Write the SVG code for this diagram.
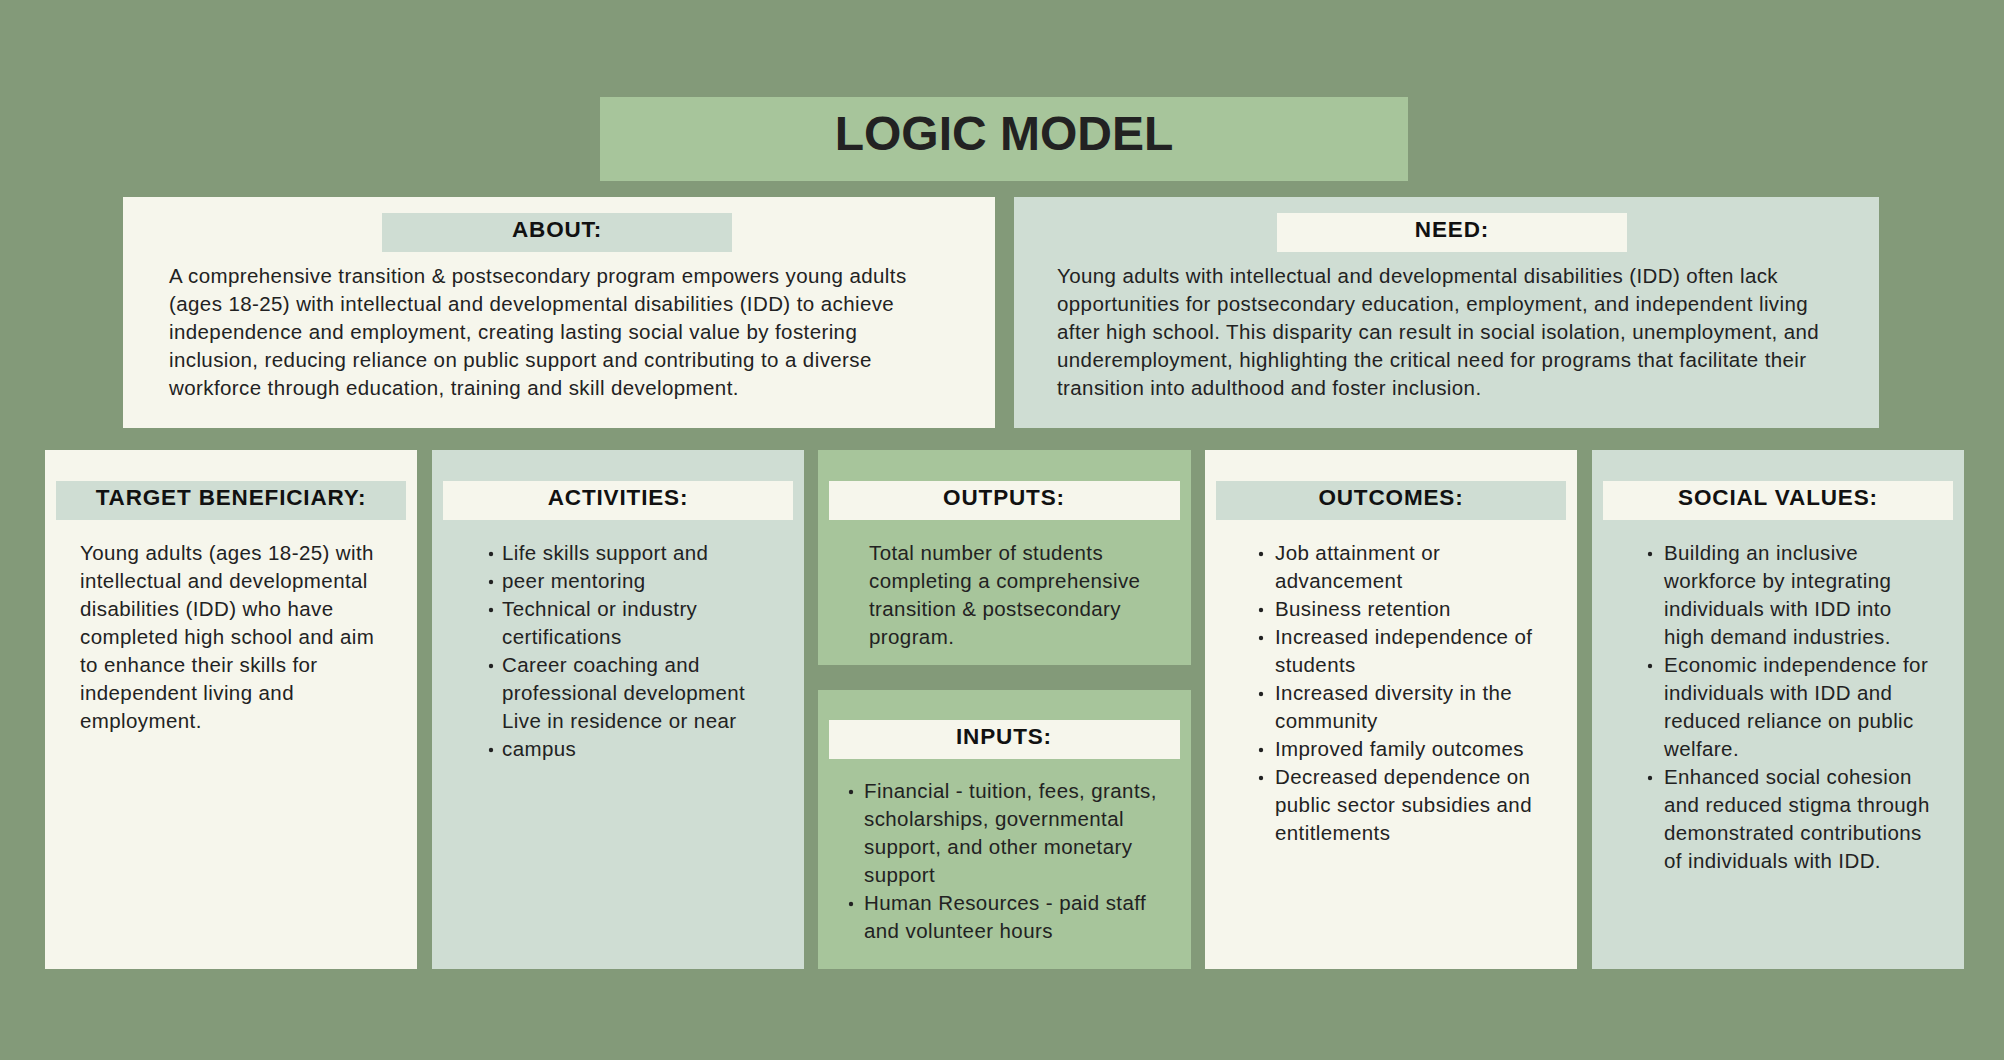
<svg xmlns="http://www.w3.org/2000/svg" width="2004" height="1060" viewBox="0 0 2004 1060">
<style>
.bg{fill:#839A79}
.cream{fill:#F6F6EC}
.sage{fill:#CFDDD3}
.green{fill:#A7C59B}
.title{font-family:"Liberation Sans",Arial,sans-serif;font-weight:bold;font-size:48px;fill:#222;text-anchor:middle}
.lbl{font-family:"Liberation Sans",Arial,sans-serif;font-weight:bold;font-size:22.5px;letter-spacing:0.85px;fill:#111;text-anchor:middle}
.body{font-family:"Liberation Sans",Arial,sans-serif;font-size:20.5px;letter-spacing:0.4px;fill:#222}
.dot{fill:#222}
</style>
<rect class="bg" x="0" y="0" width="2004" height="1060"/>

<g id="title">
<rect class="green" x="600" y="97" width="808" height="84"/>
<text class="title" x="1004" y="150">LOGIC MODEL</text>
</g>

<g id="about">
<rect class="cream" x="123" y="197" width="872" height="231"/>
<rect class="sage" x="382" y="213" width="350" height="39"/>
<text class="lbl" x="557" y="237">ABOUT:</text>
<text class="body">
<tspan x="169" y="283">A comprehensive transition &amp; postsecondary program empowers young adults</tspan>
<tspan x="169" y="311">(ages 18-25) with intellectual and developmental disabilities (IDD) to achieve</tspan>
<tspan x="169" y="339">independence and employment, creating lasting social value by fostering</tspan>
<tspan x="169" y="367">inclusion, reducing reliance on public support and contributing to a diverse</tspan>
<tspan x="169" y="395">workforce through education, training and skill development.</tspan>
</text>
</g>

<g id="need">
<rect class="sage" x="1014" y="197" width="865" height="231"/>
<rect class="cream" x="1277" y="213" width="350" height="39"/>
<text class="lbl" x="1452" y="237">NEED:</text>
<text class="body">
<tspan x="1057" y="283">Young adults with intellectual and developmental disabilities (IDD) often lack</tspan>
<tspan x="1057" y="311">opportunities for postsecondary education, employment, and independent living</tspan>
<tspan x="1057" y="339">after high school. This disparity can result in social isolation, unemployment, and</tspan>
<tspan x="1057" y="367">underemployment, highlighting the critical need for programs that facilitate their</tspan>
<tspan x="1057" y="395">transition into adulthood and foster inclusion.</tspan>
</text>
</g>

<g id="target">
<rect class="cream" x="45" y="450" width="372" height="519"/>
<rect class="sage" x="56" y="481" width="350" height="39"/>
<text class="lbl" x="231" y="505">TARGET BENEFICIARY:</text>
<text class="body">
<tspan x="80" y="560">Young adults (ages 18-25) with</tspan>
<tspan x="80" y="588">intellectual and developmental</tspan>
<tspan x="80" y="616">disabilities (IDD) who have</tspan>
<tspan x="80" y="644">completed high school and aim</tspan>
<tspan x="80" y="672">to enhance their skills for</tspan>
<tspan x="80" y="700">independent living and</tspan>
<tspan x="80" y="728">employment.</tspan>
</text>
</g>

<g id="activities">
<rect class="sage" x="432" y="450" width="372" height="519"/>
<rect class="cream" x="443" y="481" width="350" height="39"/>
<text class="lbl" x="618" y="505">ACTIVITIES:</text>
<circle class="dot" cx="491" cy="554" r="2.2"/>
<circle class="dot" cx="491" cy="582" r="2.2"/>
<circle class="dot" cx="491" cy="610" r="2.2"/>
<circle class="dot" cx="491" cy="666" r="2.2"/>
<circle class="dot" cx="491" cy="750" r="2.2"/>
<text class="body">
<tspan x="502" y="560">Life skills support and</tspan>
<tspan x="502" y="588">peer mentoring</tspan>
<tspan x="502" y="616">Technical or industry</tspan>
<tspan x="502" y="644">certifications</tspan>
<tspan x="502" y="672">Career coaching and</tspan>
<tspan x="502" y="700">professional development</tspan>
<tspan x="502" y="728">Live in residence or near</tspan>
<tspan x="502" y="756">campus</tspan>
</text>
</g>

<g id="outputs">
<rect class="green" x="818" y="450" width="373" height="215"/>
<rect class="cream" x="829" y="481" width="351" height="39"/>
<text class="lbl" x="1004" y="505">OUTPUTS:</text>
<text class="body">
<tspan x="869" y="560">Total number of students</tspan>
<tspan x="869" y="588">completing a comprehensive</tspan>
<tspan x="869" y="616">transition &amp; postsecondary</tspan>
<tspan x="869" y="644">program.</tspan>
</text>
</g>

<g id="inputs">
<rect class="green" x="818" y="690" width="373" height="279"/>
<rect class="cream" x="829" y="720" width="351" height="39"/>
<text class="lbl" x="1004" y="744">INPUTS:</text>
<circle class="dot" cx="851" cy="792" r="2.2"/>
<circle class="dot" cx="851" cy="904" r="2.2"/>
<text class="body">
<tspan x="864" y="798">Financial - tuition, fees, grants,</tspan>
<tspan x="864" y="826">scholarships, governmental</tspan>
<tspan x="864" y="854">support, and other monetary</tspan>
<tspan x="864" y="882">support</tspan>
<tspan x="864" y="910">Human Resources - paid staff</tspan>
<tspan x="864" y="938">and volunteer hours</tspan>
</text>
</g>

<g id="outcomes">
<rect class="cream" x="1205" y="450" width="372" height="519"/>
<rect class="sage" x="1216" y="481" width="350" height="39"/>
<text class="lbl" x="1391" y="505">OUTCOMES:</text>
<circle class="dot" cx="1261" cy="554" r="2.2"/>
<circle class="dot" cx="1261" cy="610" r="2.2"/>
<circle class="dot" cx="1261" cy="638" r="2.2"/>
<circle class="dot" cx="1261" cy="694" r="2.2"/>
<circle class="dot" cx="1261" cy="750" r="2.2"/>
<circle class="dot" cx="1261" cy="778" r="2.2"/>
<text class="body">
<tspan x="1275" y="560">Job attainment or</tspan>
<tspan x="1275" y="588">advancement</tspan>
<tspan x="1275" y="616">Business retention</tspan>
<tspan x="1275" y="644">Increased independence of</tspan>
<tspan x="1275" y="672">students</tspan>
<tspan x="1275" y="700">Increased diversity in the</tspan>
<tspan x="1275" y="728">community</tspan>
<tspan x="1275" y="756">Improved family outcomes</tspan>
<tspan x="1275" y="784">Decreased dependence on</tspan>
<tspan x="1275" y="812">public sector subsidies and</tspan>
<tspan x="1275" y="840">entitlements</tspan>
</text>
</g>

<g id="social-values">
<rect class="sage" x="1592" y="450" width="372" height="519"/>
<rect class="cream" x="1603" y="481" width="350" height="39"/>
<text class="lbl" x="1778" y="505">SOCIAL VALUES:</text>
<circle class="dot" cx="1650" cy="554" r="2.2"/>
<circle class="dot" cx="1650" cy="666" r="2.2"/>
<circle class="dot" cx="1650" cy="778" r="2.2"/>
<text class="body">
<tspan x="1664" y="560">Building an inclusive</tspan>
<tspan x="1664" y="588">workforce by integrating</tspan>
<tspan x="1664" y="616">individuals with IDD into</tspan>
<tspan x="1664" y="644">high demand industries.</tspan>
<tspan x="1664" y="672">Economic independence for</tspan>
<tspan x="1664" y="700">individuals with IDD and</tspan>
<tspan x="1664" y="728">reduced reliance on public</tspan>
<tspan x="1664" y="756">welfare.</tspan>
<tspan x="1664" y="784">Enhanced social cohesion</tspan>
<tspan x="1664" y="812">and reduced stigma through</tspan>
<tspan x="1664" y="840">demonstrated contributions</tspan>
<tspan x="1664" y="868">of individuals with IDD.</tspan>
</text>
</g>

<g id="connectors"></g>
</svg>
